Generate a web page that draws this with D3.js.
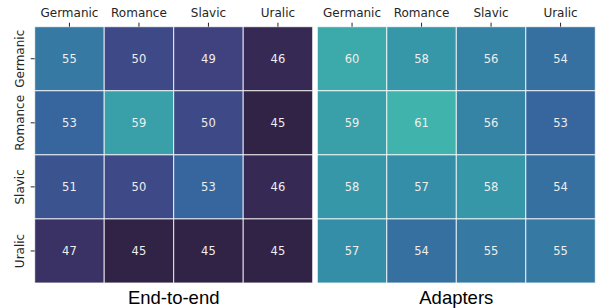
<!DOCTYPE html>
<html>
<head>
<meta charset="utf-8">
<script src="https://cdn.jsdelivr.net/npm/d3@7"></script>
<style>
  body { margin: 0; background: #fff; }
  .tick text { font-family: "DejaVu Sans", sans-serif; font-size: 12px; fill: #262626; }
  .tick line { stroke: #262626; }
  .domain { display: none; }
</style>
</head>
<body>
<div id="wrapper"></div>
<script>
// languages, rows = source, columns = target
const langs = ["Germanic", "Romance", "Slavic", "Uralic"];
const endToEnd = [
  [55, 50, 49, 46],
  [53, 59, 50, 45],
  [51, 50, 53, 46],
  [47, 45, 45, 45],
];
const adapters = [
  [60, 58, 56, 54],
  [59, 61, 56, 53],
  [58, 57, 58, 54],
  [57, 54, 55, 55],
];
const titles = ["End-to-end", "Adapters"];

// mako colormap stops (seaborn)
const makoStops = ["#0b0405", "#2e1e3b", "#413d7b", "#37659e", "#348fa7", "#40b7ad", "#8bdab2", "#def5e5"];
const makoPos = [0, 1 / 7, 2 / 7, 3 / 7, 4 / 7, 5 / 7, 6 / 7, 1];
const mako = d3.scaleLinear().domain(makoPos).range(makoStops).interpolate(d3.interpolateRgb);
const color = (v) => mako(Math.max(0, Math.min(1, (v - 40) / 30)));

const dimensions = {
  width: 598,
  height: 308,
  top: 26.7,
  plotHeight: 256.3,
  plotWidth: 278,
  lefts: [34.7, 317.3],
};

const svg = d3.select("#wrapper")
  .append("svg")
  .attr("width", dimensions.width)
  .attr("height", dimensions.height);

const yScale = d3.scaleBand()
  .domain(langs)
  .range([0, dimensions.plotHeight]);

[endToEnd, adapters].forEach((matrix, k) => {
  const xScale = d3.scaleBand()
    .domain(langs)
    .range([0, dimensions.plotWidth]);

  const bounds = svg.append("g")
    .attr("transform", `translate(${dimensions.lefts[k]},${dimensions.top})`);

  const cells = [];
  matrix.forEach((row, i) => row.forEach((v, j) => cells.push({ row: langs[i], col: langs[j], v })));

  bounds.selectAll("rect")
    .data(cells)
    .join("rect")
    .attr("x", (d) => xScale(d.col))
    .attr("y", (d) => yScale(d.row))
    .attr("width", xScale.bandwidth())
    .attr("height", yScale.bandwidth())
    .attr("fill", (d) => color(d.v))
    .attr("stroke", "#fff")
    .attr("stroke-opacity", 0.8)
    .attr("stroke-width", 1);

  bounds.selectAll("text.val")
    .data(cells)
    .join("text")
    .attr("class", "val")
    .attr("x", (d) => xScale(d.col) + xScale.bandwidth() / 2)
    .attr("y", (d) => yScale(d.row) + yScale.bandwidth() / 2)
    .attr("text-anchor", "middle")
    .attr("dy", "0.35em")
    .style("font-family", "DejaVu Sans, sans-serif")
    .style("font-size", "11.5px")
    .style("fill", "#eeeeee")
    .text((d) => d.v);

  // column labels on top
  bounds.append("g")
    .call(d3.axisTop(xScale).tickSize(4).tickPadding(6));

  // row labels only on the first panel
  if (k === 0) {
    const yAxis = bounds.append("g")
      .call(d3.axisLeft(yScale).tickSize(4).tickPadding(3));
    yAxis.selectAll(".tick text")
      .attr("transform", "rotate(-90)")
      .attr("x", 0)
      .attr("y", -11)
      .attr("dy", "0em")
      .attr("text-anchor", "middle");
  }

  svg.append("text")
    .attr("x", dimensions.lefts[k] + dimensions.plotWidth / 2)
    .attr("y", 304)
    .attr("text-anchor", "middle")
    .style("font-family", "Liberation Sans, Arial, sans-serif")
    .style("font-size", "18.5px")
    .style("fill", "#000")
    .text(titles[k]);
});
</script>
</body>
</html>
